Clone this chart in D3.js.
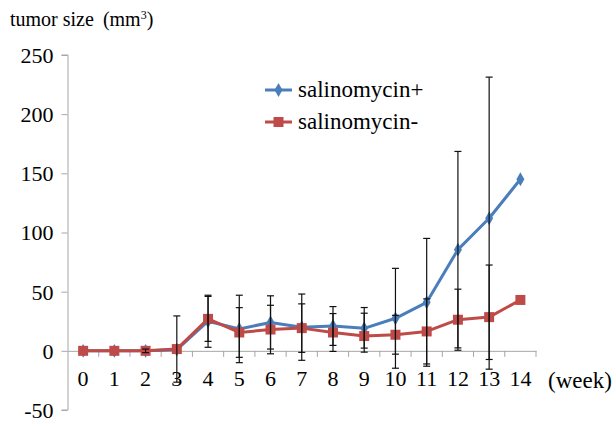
<!DOCTYPE html>
<html>
<head>
<meta charset="utf-8">
<script src="https://cdn.jsdelivr.net/npm/d3@7"></script>
<style>
  body { margin: 0; background: #fff; }
</style>
</head>
<body>
<div id="chart"></div>
<script>
// Tumor size over weeks, with / without salinomycin

const weeks = [0, 1, 2, 3, 4, 5, 6, 7, 8, 9, 10, 11, 12, 13, 14];
const yTicks = [-50, 0, 50, 100, 150, 200, 250];

const salPlus = [0, 0, 0, 1, 25, 18.5, 24, 20, 21, 19, 27.5, 41, 85.5, 112, 145];
const salPlusErrUp = [0, 0, 0, 0, 22, 28.5, 22.5, 28, 16.4, 17.6, 42.2, 54, 83, 119.3, 0];
const salPlusErrDown = [0, 0, 0, 0, 22, 28.5, 22.5, 28, 16.4, 16.7, 42.2, 54, 83, 119.3, 0];

const salMinus = [0, 0, 0, 1.5, 27, 15.5, 18, 19.2, 15.5, 12.5, 13.6, 16.4, 26.3, 28.5, 43];
const salMinusErrUp = [0, 0, 1.5, 28, 19, 21, 20.5, 20.5, 16, 19.3, 16.4, 27.5, 25.8, 44, 0];
const salMinusErrDown = [0, 0, 1.5, 28, 19, 21, 20.5, 20.5, 16, 13.6, 16.4, 27.5, 25.8, 44, 0];

const series = [
    { name: 'salinomycin+', values: salPlus, up: salPlusErrUp, down: salPlusErrDown, color: '#4a7ebb', marker: 'diamond' },
    { name: 'salinomycin-', values: salMinus, up: salMinusErrUp, down: salMinusErrDown, color: '#be4b48', marker: 'square' }
];

const FONT = "'Liberation Serif', 'Tinos', 'Noto Serif', 'DejaVu Serif', 'FreeSerif', 'Times New Roman', serif";

const W = 616, H = 422;
const svg = d3.select('#chart').append('svg')
    .attr('width', W)
    .attr('height', H)
    .style('font-family', FONT);

const xScale = d3.scaleBand()
    .domain(weeks)
    .range([67.5, 536])
    .padding(0);

const yScale = d3.scaleLinear()
    .domain([-50, 250])
    .range([410, 55]);

const cx = d => xScale(d) + xScale.bandwidth() / 2;
const axisColor = '#a6a6a6';

// Y axis
const yAxis = d3.axisLeft(yScale)
    .tickValues(yTicks)
    .tickSize(6)
    .tickPadding(8)
    .tickFormat(d => String(d));

const yAxisGroup = svg.append('g')
    .attr('transform', `translate(${xScale.range()[0]},0)`)
    .call(yAxis)
    .attr('font-family', FONT);
yAxisGroup.select('.domain').attr('stroke', axisColor).attr('d', `M-6,${yScale(250)}H0.5V${yScale(-50)}H-6`);
yAxisGroup.selectAll('.tick line').attr('stroke', axisColor);
yAxisGroup.selectAll('.tick text')
    .style('font-family', FONT)
    .style('font-size', '22px')
    .attr('fill', '#000')
    .attr('dy', '0.34em');

// X axis at zero
const xAxis = d3.axisBottom(xScale)
    .tickSize(0)
    .tickPadding(20);

const xAxisGroup = svg.append('g')
    .attr('transform', `translate(0,${yScale(0)})`)
    .call(xAxis)
    .attr('font-family', FONT);
xAxisGroup.select('.domain').attr('stroke', axisColor);
xAxisGroup.selectAll('.tick text')
    .style('font-family', FONT)
    .style('font-size', '22px')
    .attr('fill', '#000');

// category boundary ticks
const bounds = weeks.map(w => xScale(w)).concat([xScale.range()[1]]);
xAxisGroup.selectAll('.bound')
    .data(bounds.slice(1))
    .enter().append('line')
    .attr('class', 'bound')
    .attr('x1', d => d).attr('x2', d => d)
    .attr('y1', 0).attr('y2', 6)
    .attr('stroke', axisColor);

// axis titles
const title = svg.append('text')
    .attr('x', 10)
    .attr('y', 26)
    .style('font-family', FONT)
    .style('font-size', '20px');
title.append('tspan').text('tumor size');
title.append('tspan').attr('dx', 9).text('(mm');
title.append('tspan').attr('dy', -7).style('font-size', '12px').text('3');
title.append('tspan').attr('dy', 7).text(')');

svg.append('text')
    .attr('x', 548)
    .attr('y', 388)
    .style('font-family', FONT)
    .style('font-size', '23px')
    .text('(week)');

// Lines
const line = d3.line()
    .x((d, i) => cx(weeks[i]))
    .y(d => yScale(d));

series.forEach(s => {
    svg.append('path')
        .datum(s.values)
        .attr('fill', 'none')
        .attr('stroke', s.color)
        .attr('stroke-width', 3)
        .attr('stroke-linejoin', 'round')
        .attr('d', line);
});

// Markers
const diamond = d3.symbol().type(d3.symbolDiamond).size(55);
const square = d3.symbol().type(d3.symbolSquare).size(100);

series.forEach(s => {
    svg.selectAll(null)
        .data(s.values)
        .enter().append('path')
        .attr('transform', (d, i) => `translate(${cx(weeks[i])},${yScale(d)})`)
        .attr('d', s.marker === 'diamond' ? diamond : square)
        .attr('fill', s.color);
});

// Error bars
const capW = 3.5;
series.forEach(s => {
    const bars = svg.selectAll(null)
        .data(s.values.map((v, i) => ({ x: cx(weeks[i]), v, up: s.up[i], down: s.down[i] })).filter(d => d.up > 0 || d.down > 0))
        .enter().append('g')
        .attr('stroke', '#111')
        .attr('stroke-width', 1.2);
    bars.append('line')
        .attr('x1', d => d.x).attr('x2', d => d.x)
        .attr('y1', d => yScale(d.v + d.up))
        .attr('y2', d => yScale(d.v - d.down));
    bars.append('line')
        .attr('x1', d => d.x - capW).attr('x2', d => d.x + capW)
        .attr('y1', d => yScale(d.v + d.up)).attr('y2', d => yScale(d.v + d.up));
    bars.append('line')
        .attr('x1', d => d.x - capW).attr('x2', d => d.x + capW)
        .attr('y1', d => yScale(d.v - d.down)).attr('y2', d => yScale(d.v - d.down));
});

// Legend
const legend = svg.append('g')
    .attr('transform', 'translate(265, 90)');

series.forEach((s, i) => {
    const item = legend.append('g')
        .attr('transform', `translate(0, ${i * 32})`);
    item.append('line')
        .attr('x1', 0).attr('x2', 27)
        .attr('y1', 0).attr('y2', 0)
        .attr('stroke', s.color)
        .attr('stroke-width', 3);
    item.append('path')
        .attr('transform', 'translate(13.5,0)')
        .attr('d', s.marker === 'diamond' ? diamond : square)
        .attr('fill', s.color);
    item.append('text')
        .attr('x', 33)
        .attr('y', 0)
        .attr('dy', '0.32em')
        .style('font-family', FONT)
        .style('font-size', '23px')
        .text(s.name);
});
</script>
</body>
</html>
